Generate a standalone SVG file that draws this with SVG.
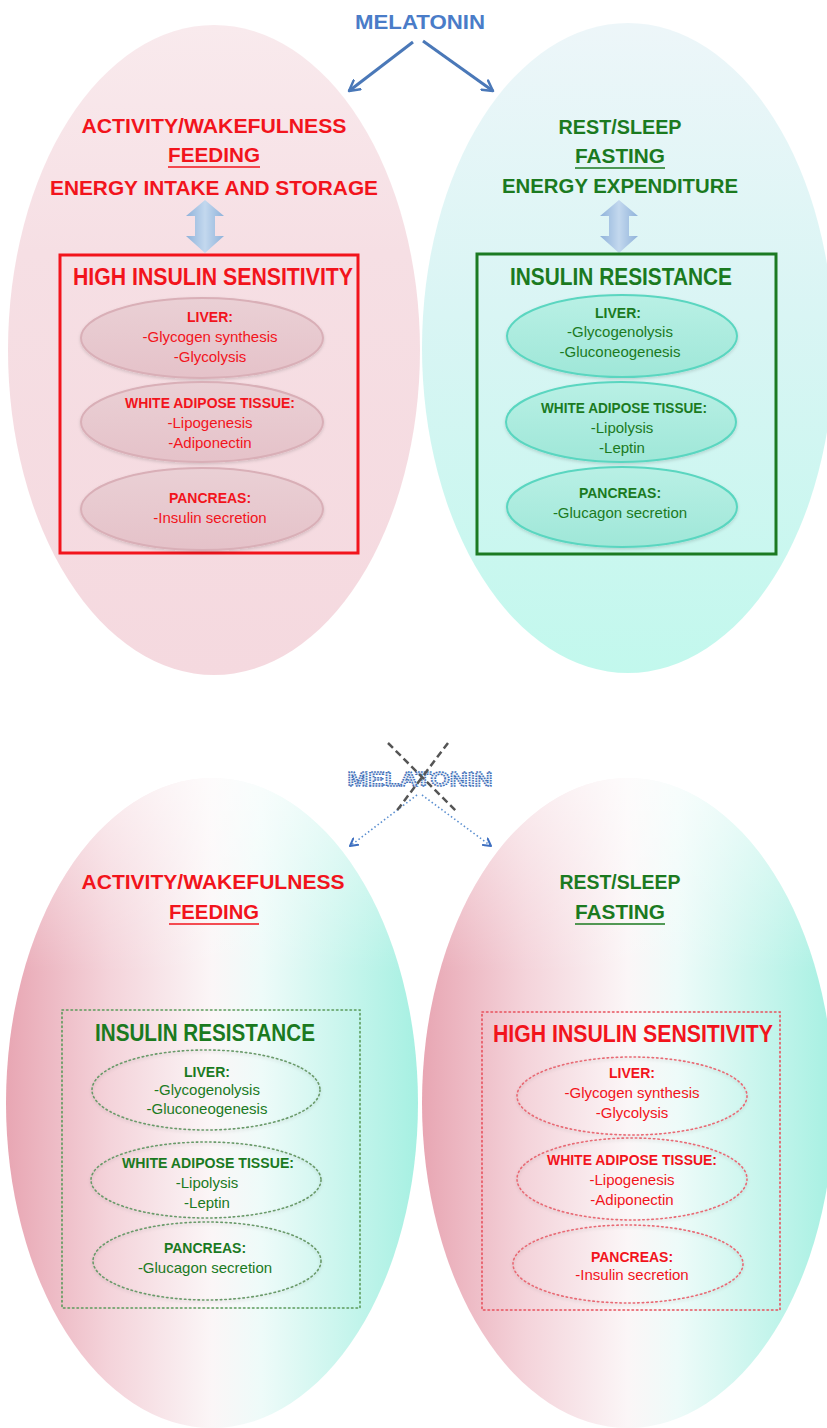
<svg xmlns="http://www.w3.org/2000/svg" width="827" height="1428" viewBox="0 0 827 1428">
  <defs>
    <style>
      text { font-family: "Liberation Sans", Arial, sans-serif; text-anchor: middle; }
      .head { font-size: 21px; font-weight: bold; }
      .box-title { font-size: 23px; font-weight: bold; }
      .org-h { font-size: 14px; font-weight: bold; }
      .org-t { font-size: 15px; }
      .red { fill: #f2141c; }
      .green { fill: #1b7a1f; }
      .ul-red { stroke: #f2141c; stroke-width: 1.6; }
      .ul-green { stroke: #1b7a1f; stroke-width: 1.6; }
      .box-red { fill: none; stroke: #f2141c; stroke-width: 3; }
      .box-green { fill: none; stroke: #1b7a22; stroke-width: 3; }
      .dbox-red { fill: none; stroke: #e8505c; stroke-width: 1.6; stroke-dasharray: 1.5 3; stroke-linecap: round; }
      .dbox-green { fill: none; stroke: #5a9a5a; stroke-width: 1.6; stroke-dasharray: 1.5 3; stroke-linecap: round; }
      .org-pink { fill: url(#orgPink); stroke: #d9afb7; stroke-width: 2; filter: url(#soft); }
      .org-aqua { fill: url(#orgAqua); stroke: #5ad6c0; stroke-width: 2; filter: url(#soft); }
      .dorg-red { fill: none; stroke: #e86a74; stroke-width: 1.6; stroke-dasharray: 1.5 3; stroke-linecap: round; filter: url(#soft); }
      .dorg-green { fill: none; stroke: #6a9a6a; stroke-width: 1.6; stroke-dasharray: 1.5 3; stroke-linecap: round; filter: url(#soft); }
      .mel-arrow { fill: none; stroke: #4a78b8; stroke-width: 3; marker-end: url(#vHead); }
      .mel-dot { fill: none; stroke: #5b8fd0; stroke-width: 1.6; stroke-dasharray: 1.5 2.5; marker-end: url(#vHeadSmall); }
      .cross { stroke: #555; stroke-width: 2.5; stroke-dasharray: 7 4; }
      .dbl { fill: url(#dblFill); }
    </style>
    <linearGradient id="topPink" x1="0" y1="0" x2="0" y2="1">
      <stop offset="0" stop-color="#f9eaed"/>
      <stop offset="0.35" stop-color="#f6dfe4"/>
      <stop offset="1" stop-color="#f5d9df"/>
    </linearGradient>
    <linearGradient id="topAqua" x1="0" y1="0" x2="0" y2="1">
      <stop offset="0" stop-color="#edf6f9"/>
      <stop offset="0.45" stop-color="#d9f5f4"/>
      <stop offset="1" stop-color="#c2f8ed"/>
    </linearGradient>
    <linearGradient id="mixed" x1="0" y1="0" x2="1" y2="0">
      <stop offset="0" stop-color="#e8a6b3"/>
      <stop offset="0.25" stop-color="#f4d3da"/>
      <stop offset="0.5" stop-color="#fbf6f7"/>
      <stop offset="0.62" stop-color="#eefbf9"/>
      <stop offset="1" stop-color="#a6f0e2"/>
    </linearGradient>
    <linearGradient id="topFade" x1="0" y1="0" x2="0" y2="1">
      <stop offset="0" stop-color="#ffffff" stop-opacity="0.6"/>
      <stop offset="0.3" stop-color="#ffffff" stop-opacity="0"/>
    </linearGradient>
    <linearGradient id="orgPink" x1="0" y1="0" x2="0" y2="1">
      <stop offset="0" stop-color="#ead0d5"/>
      <stop offset="1" stop-color="#e5c2c9"/>
    </linearGradient>
    <linearGradient id="orgAqua" x1="0" y1="0" x2="0" y2="1">
      <stop offset="0" stop-color="#b9f0e5"/>
      <stop offset="1" stop-color="#9fe7d8"/>
    </linearGradient>
    <linearGradient id="dblFill" x1="0" y1="0" x2="1" y2="0">
      <stop offset="0" stop-color="#8fb2da"/>
      <stop offset="0.5" stop-color="#c3d8ee"/>
      <stop offset="1" stop-color="#8fb2da"/>
    </linearGradient>
    <filter id="soft" x="-10%" y="-20%" width="120%" height="140%">
      <feDropShadow dx="0" dy="1.5" stdDeviation="1.5" flood-color="#000" flood-opacity="0.15"/>
    </filter>
    <marker id="vHead" viewBox="0 0 12 12" refX="10" refY="6" markerWidth="4.5" markerHeight="4.5" orient="auto" markerUnits="strokeWidth">
      <path d="M1,1 L10,6 L1,11" fill="none" stroke="#4a78b8" stroke-width="2.2" stroke-linecap="round" stroke-linejoin="round"/>
    </marker>
    <marker id="vHeadSmall" viewBox="0 0 12 12" refX="10" refY="6" markerWidth="6" markerHeight="6" orient="auto" markerUnits="strokeWidth">
      <path d="M1,1 L10,6 L1,11" fill="none" stroke="#3e6fc0" stroke-width="2.5" stroke-linecap="round" stroke-linejoin="round"/>
    </marker>
  </defs>

  <rect width="827" height="1428" fill="#ffffff"/>

  <!-- background phases -->
  <g id="phases">
    <ellipse cx="214" cy="350" rx="206" ry="325" fill="url(#topPink)"/>
    <ellipse cx="628" cy="348" rx="206" ry="325" fill="url(#topAqua)"/>
    <ellipse cx="212" cy="1103" rx="206" ry="325" fill="url(#mixed)"/>
    <ellipse cx="212" cy="1103" rx="206" ry="325" fill="url(#topFade)"/>
    <ellipse cx="628" cy="1103" rx="206" ry="325" fill="url(#mixed)"/>
    <ellipse cx="628" cy="1103" rx="206" ry="325" fill="url(#topFade)"/>
  </g>

  <!-- connectors -->
  <g id="connectors">
    <line class="mel-arrow" x1="413" y1="42" x2="349" y2="91"/>
    <line class="mel-arrow" x1="423" y1="41" x2="493" y2="91"/>
    <path class="dbl" d="M205,200 L224,216 L215,216 L215,236 L224,236 L205,253 L186,236 L195,236 L195,216 L186,216 Z"/>
    <path class="dbl" d="M619,200 L638,216 L629,216 L629,236 L638,236 L619,253 L600,236 L609,236 L609,216 L600,216 Z"/>
    <line class="mel-dot" x1="417" y1="795" x2="350" y2="846"/>
    <line class="mel-dot" x1="422" y1="795" x2="491" y2="846"/>
  </g>

  <!-- melatonin present -->
  <g id="melatonin-on">
    <text x="420" y="29" class="head" fill="#4a7cc8" textLength="130" lengthAdjust="spacingAndGlyphs">MELATONIN</text>
  </g>

  <!-- melatonin absent -->
  <g id="melatonin-off">
    <text x="420" y="786" class="head" fill="#e9f0f9" stroke="#3f6fb8" stroke-width="1.5" stroke-dasharray="1.5 1" textLength="145" lengthAdjust="spacingAndGlyphs">MELATONIN</text>
    <line class="cross" x1="388" y1="743" x2="457" y2="812"/>
    <line class="cross" x1="448" y1="743" x2="395" y2="813"/>
  </g>

  <!-- day phase, with melatonin -->
  <g id="day-header">
    <text x="214" y="133" class="head red" textLength="265" lengthAdjust="spacingAndGlyphs">ACTIVITY/WAKEFULNESS</text>
    <text x="214" y="162" class="head red" textLength="92" lengthAdjust="spacingAndGlyphs">FEEDING</text>
    <line class="ul-red" x1="168" y1="167" x2="260" y2="167"/>
    <text x="214" y="195" class="head red" textLength="328" lengthAdjust="spacingAndGlyphs">ENERGY INTAKE AND STORAGE</text>
  </g>
  <g id="day-sensitivity">
    <rect class="box-red" x="60" y="255" width="298" height="298"/>
    <text x="213" y="285" class="box-title red" textLength="280" lengthAdjust="spacingAndGlyphs">HIGH INSULIN SENSITIVITY</text>
  </g>
  <g id="day-liver">
    <ellipse class="org-pink" cx="202" cy="338" rx="121" ry="40"/>
    <text x="210" y="322" class="org-h red">LIVER:</text>
    <text x="210" y="342" class="org-t red">-Glycogen synthesis</text>
    <text x="210" y="362" class="org-t red">-Glycolysis</text>
  </g>
  <g id="day-wat">
    <ellipse class="org-pink" cx="202" cy="422" rx="121" ry="40"/>
    <text x="210" y="408" class="org-h red" textLength="170" lengthAdjust="spacingAndGlyphs">WHITE ADIPOSE TISSUE:</text>
    <text x="210" y="428" class="org-t red">-Lipogenesis</text>
    <text x="210" y="448" class="org-t red">-Adiponectin</text>
  </g>
  <g id="day-pancreas">
    <ellipse class="org-pink" cx="202" cy="509" rx="121" ry="41"/>
    <text x="210" y="503" class="org-h red">PANCREAS:</text>
    <text x="210" y="523" class="org-t red">-Insulin secretion</text>
  </g>

  <!-- night phase, with melatonin -->
  <g id="night-header">
    <text x="620" y="134" class="head green" textLength="123" lengthAdjust="spacingAndGlyphs">REST/SLEEP</text>
    <text x="620" y="163" class="head green" textLength="90" lengthAdjust="spacingAndGlyphs">FASTING</text>
    <line class="ul-green" x1="575" y1="168" x2="665" y2="168"/>
    <text x="620" y="193" class="head green" textLength="236" lengthAdjust="spacingAndGlyphs">ENERGY EXPENDITURE</text>
  </g>
  <g id="night-resistance">
    <rect class="box-green" x="477" y="254" width="299" height="300"/>
    <text x="621" y="285" class="box-title green" textLength="222" lengthAdjust="spacingAndGlyphs">INSULIN RESISTANCE</text>
  </g>
  <g id="night-liver">
    <ellipse class="org-aqua" cx="622" cy="336" rx="115" ry="41"/>
    <text x="618" y="318" class="org-h green">LIVER:</text>
    <text x="620" y="337" class="org-t green">-Glycogenolysis</text>
    <text x="620" y="357" class="org-t green">-Gluconeogenesis</text>
  </g>
  <g id="night-wat">
    <ellipse class="org-aqua" cx="621" cy="422" rx="115" ry="40"/>
    <text x="624" y="413" class="org-h green" textLength="166" lengthAdjust="spacingAndGlyphs">WHITE ADIPOSE TISSUE:</text>
    <text x="622" y="433" class="org-t green">-Lipolysis</text>
    <text x="622" y="453" class="org-t green">-Leptin</text>
  </g>
  <g id="night-pancreas">
    <ellipse class="org-aqua" cx="622" cy="507" rx="115" ry="40"/>
    <text x="620" y="498" class="org-h green">PANCREAS:</text>
    <text x="620" y="518" class="org-t green">-Glucagon secretion</text>
  </g>

  <!-- day phase, without melatonin -->
  <g id="day-off-header">
    <text x="213" y="889" class="head red" textLength="263" lengthAdjust="spacingAndGlyphs">ACTIVITY/WAKEFULNESS</text>
    <text x="214" y="919" class="head red" textLength="90" lengthAdjust="spacingAndGlyphs">FEEDING</text>
    <line class="ul-red" x1="169" y1="924" x2="259" y2="924"/>
  </g>
  <g id="day-off-resistance">
    <rect class="dbox-green" x="62" y="1010" width="298" height="298"/>
    <text x="205" y="1041" class="box-title green" textLength="220" lengthAdjust="spacingAndGlyphs">INSULIN RESISTANCE</text>
  </g>
  <g id="day-off-liver">
    <ellipse class="dorg-green" cx="206" cy="1090" rx="114" ry="40"/>
    <text x="207" y="1077" class="org-h green">LIVER:</text>
    <text x="207" y="1095" class="org-t green">-Glycogenolysis</text>
    <text x="207" y="1114" class="org-t green">-Gluconeogenesis</text>
  </g>
  <g id="day-off-wat">
    <ellipse class="dorg-green" cx="206" cy="1180" rx="115" ry="38"/>
    <text x="208" y="1168" class="org-h green" textLength="172" lengthAdjust="spacingAndGlyphs">WHITE ADIPOSE TISSUE:</text>
    <text x="207" y="1188" class="org-t green">-Lipolysis</text>
    <text x="207" y="1208" class="org-t green">-Leptin</text>
  </g>
  <g id="day-off-pancreas">
    <ellipse class="dorg-green" cx="207" cy="1261" rx="114" ry="39"/>
    <text x="205" y="1253" class="org-h green">PANCREAS:</text>
    <text x="205" y="1273" class="org-t green">-Glucagon secretion</text>
  </g>

  <!-- night phase, without melatonin -->
  <g id="night-off-header">
    <text x="620" y="889" class="head green" textLength="121" lengthAdjust="spacingAndGlyphs">REST/SLEEP</text>
    <text x="620" y="919" class="head green" textLength="90" lengthAdjust="spacingAndGlyphs">FASTING</text>
    <line class="ul-green" x1="575" y1="924" x2="665" y2="924"/>
  </g>
  <g id="night-off-sensitivity">
    <rect class="dbox-red" x="482" y="1012" width="298" height="298"/>
    <text x="633" y="1042" class="box-title red" textLength="280" lengthAdjust="spacingAndGlyphs">HIGH INSULIN SENSITIVITY</text>
  </g>
  <g id="night-off-liver">
    <ellipse class="dorg-red" cx="632" cy="1096" rx="115" ry="39"/>
    <text x="632" y="1078" class="org-h red">LIVER:</text>
    <text x="632" y="1098" class="org-t red">-Glycogen synthesis</text>
    <text x="632" y="1118" class="org-t red">-Glycolysis</text>
  </g>
  <g id="night-off-wat">
    <ellipse class="dorg-red" cx="632" cy="1179" rx="115" ry="41"/>
    <text x="632" y="1165" class="org-h red" textLength="170" lengthAdjust="spacingAndGlyphs">WHITE ADIPOSE TISSUE:</text>
    <text x="632" y="1185" class="org-t red">-Lipogenesis</text>
    <text x="632" y="1205" class="org-t red">-Adiponectin</text>
  </g>
  <g id="night-off-pancreas">
    <ellipse class="dorg-red" cx="628" cy="1264" rx="115" ry="39"/>
    <text x="632" y="1262" class="org-h red">PANCREAS:</text>
    <text x="632" y="1280" class="org-t red">-Insulin secretion</text>
  </g>
</svg>
